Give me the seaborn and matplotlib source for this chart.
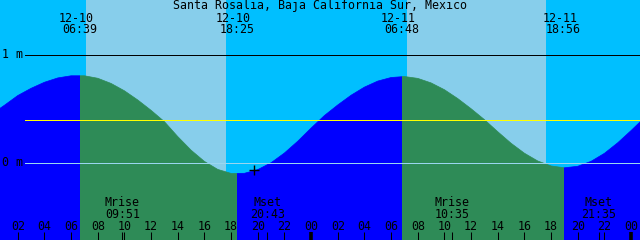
import matplotlib
matplotlib.use("Agg")
import matplotlib.pyplot as plt
from matplotlib.patches import Rectangle
import seaborn as sns

# ---------------- data ----------------
title = "Santa Rosalia, Baja California Sur, Mexico"
# hours since 12-10 00:00
hours = list(range(0, 50))
heights_m = [0.445, 0.53, 0.62, 0.687, 0.743, 0.783, 0.803,
             0.803, 0.78, 0.732, 0.664, 0.579, 0.483,
             0.378, 0.24, 0.114, 0.01, -0.064, -0.101,
             -0.1, -0.066, -0.002, 0.088, 0.197, 0.319,
             0.435, 0.533, 0.623, 0.698, 0.754, 0.787,
             0.796, 0.779, 0.737, 0.674, 0.592, 0.498, 0.397,
             0.285, 0.178, 0.086, 0.014, -0.032, -0.049,
             -0.035, 0.011, 0.085, 0.183, 0.296, 0.415]

sunrise_hours = [6.65, 30.8]
sunset_hours = [18.417, 42.933]
sun_event_hours = [6.65, 18.417, 30.8, 42.933]
sun_event_dates = ["12-10", "12-10", "12-11", "12-11"]
sun_event_times = ["06:39", "18:25", "06:48", "18:56"]
sky_day_start = [7.117, 31.19]
sky_day_end = [17.617, 41.617]

moon_event_hours = [9.85, 20.717, 34.583, 45.583]
moon_event_names = ["Mrise", "Mset", "Mrise", "Mset"]
moon_event_times = ["09:51", "20:43", "10:35", "21:35"]

level_labels = ["1 m", "0 m"]
level_values = [1.0, 0.0]
mean_level = 0.389
marker_hour = 19.74
marker_height = -0.074

hour_ticks = list(range(2, 49, 2))
hour_tick_labels = [f"{h % 24:02d}" for h in hour_ticks]
midnight_hours = [24, 48]

# ---------------- style ----------------
NIGHT_SKY = "#00BFFF"
DAY_SKY = "#87CEEB"
NIGHT_WATER = "#0000FF"
DAY_WATER = "#2E8B57"

sns.set_theme(style="white")
plt.rcParams["font.family"] = ["DejaVu Sans Mono"]
plt.rcParams["text.color"] = "black"
FS = 8.4
PX = 0.72  # one pixel in points

W, H = 640, 240
T0 = 0.667
PXH = 13.3333  # px per hour
T1 = T0 + W / PXH
YTOP = 162.5 / 108
YBOT = (162.5 - H) / 108


def ypx(p):
    return (162.5 - p) / 108


fig = plt.figure(figsize=(6.4, 2.4), dpi=100)
fig.patch.set_facecolor(NIGHT_SKY)
ax = fig.add_axes([0, 0, 1, 1])
ax.set_xlim(T0, T1)
ax.set_ylim(YBOT, YTOP)
ax.set_axis_off()

# sky day shading
for s, e in zip(sky_day_start, sky_day_end):
    ax.axvspan(s, e, color=DAY_SKY, lw=0, zorder=1)

# water: night and day parts, each clipped to its time span
night_spans = [(T0 - 1, sunrise_hours[0]), (sunset_hours[0], sunrise_hours[1]),
               (sunset_hours[1], T1 + 1)]
day_spans = list(zip(sunrise_hours, sunset_hours))
for spans, col in ((night_spans, NIGHT_WATER), (day_spans, DAY_WATER)):
    for s, e in spans:
        poly = ax.fill_between(hours, heights_m, YBOT - 1, color=col, lw=0, zorder=2)
        poly.set_clip_path(Rectangle((s, YBOT - 2), e - s, 10, transform=ax.transData))
        n0 = len(ax.lines)
        sns.lineplot(x=hours, y=heights_m, ax=ax, color=col, lw=0.5, zorder=2.1)
        for ln in ax.lines[n0:]:
            ln.set_clip_path(Rectangle((s, YBOT - 2), e - s, 10, transform=ax.transData))

# level lines (1 px)
xline0 = T0 + 25 / PXH
ax.hlines(1.0, xline0, T1, color="black", lw=PX, zorder=5, antialiased=False)
ax.hlines(mean_level, xline0, T1, color="#FFFF00", lw=PX, zorder=5, antialiased=False)
ax.hlines(0.0, xline0, T1, color="#9AD6F0", lw=PX, zorder=5, antialiased=False)

for lab, val in zip(level_labels, level_values):
    ax.text(T0 + 1.5 / PXH, val - 3.5 / 108, lab, fontsize=FS, ha="left",
            va="baseline", color="black", zorder=6)

# marker
ax.plot([marker_hour], [marker_height], marker="+", color="black",
        markersize=7, mew=1.0, zorder=6)

# title
ax.text(T0 + 320 / PXH, ypx(9.5), title, fontsize=FS, ha="center",
        va="baseline", color="black", zorder=6)

# sun events
for t, d, tm in zip(sun_event_hours, sun_event_dates, sun_event_times):
    ax.text(t - 3.5 / PXH, ypx(21.5), d, fontsize=FS, ha="center", va="baseline",
            color="black", zorder=6)
    ax.text(t, ypx(33.2), tm, fontsize=FS, ha="center", va="baseline",
            color="black", zorder=6)

# moon events
for t, n, tm in zip(moon_event_hours, moon_event_names, moon_event_times):
    ax.text(t, ypx(206.2), n, fontsize=FS, ha="center", va="baseline",
            color="black", zorder=6)
    ax.text(t, ypx(217.8), tm, fontsize=FS, ha="center", va="baseline",
            color="black", zorder=6)

# hour ticks and labels
ytick0 = ypx(240.5)
ytick1 = ypx(231.5)
ax.vlines(hour_ticks, ytick0, ytick1, color="black", lw=0.75, zorder=6)
ax.vlines(moon_event_hours, ytick0, ytick1, color="black", lw=0.75, zorder=6)
ax.vlines(midnight_hours, ytick0, ytick1, color="black", lw=2.6, zorder=6)
for t, lab in zip(hour_ticks, hour_tick_labels):
    ax.text(t, ypx(229.6), lab, fontsize=FS, ha="center", va="baseline",
            color="black", zorder=6)

fig.savefig("out.png", dpi=100, facecolor=fig.get_facecolor())
